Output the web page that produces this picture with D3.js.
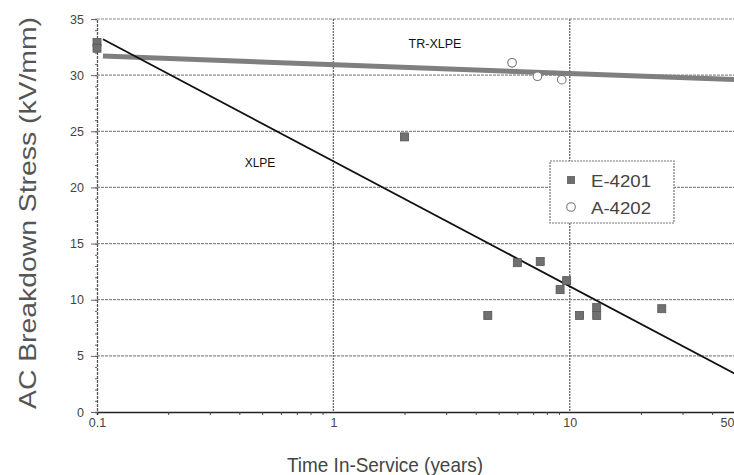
<!DOCTYPE html>
<html><head><meta charset="utf-8">
<script src="https://cdn.jsdelivr.net/npm/d3@7"></script>
<style>body{margin:0;background:#fff}svg{display:block}</style>
</head><body>
<script>
// Data
const e4201 = [[0.1,32.9],[0.1,32.4],[2,24.5],[4.5,8.6],[6,13.3],[7.5,13.4],[9.1,10.9],[9.7,11.7],[11,8.6],[13,9.3],[13,8.6],[24.5,9.2]];
const a4202 = [[5.7,31.1],[7.3,29.9],[9.25,29.6]];
const xlpeLine = [[0.106,33.2],[50,3.4]];
const trxlpeLine = [[0.106,31.7],[50,29.6]];
const xTicks = [0.1,1,10,50];
const xTickLabels = ["0.1","1","10","50"];
const yTicks = [0,5,10,15,20,25,30,35];

const W=734,H=475;
const m={l:97,t:19,r:735,b:412};
const svg=d3.select("body").append("svg").attr("width",W).attr("height",H);
const x=d3.scaleLog().domain([0.1,50]).range([m.l,m.r]);
const y=d3.scaleLinear().domain([0,35]).range([m.b,m.t]);
const font="Arial, 'Liberation Sans', sans-serif";

// horizontal grid
svg.append("g").selectAll("line").data(yTicks.filter(d=>d>0)).join("line")
 .attr("x1",m.l).attr("x2",m.r).attr("y1",d=>y(d)).attr("y2",d=>y(d))
 .attr("stroke","#8a8a8a").attr("stroke-width",1.2).attr("stroke-dasharray","3,1");
// vertical grid
svg.append("g").selectAll("line").data([1,10]).join("line")
 .attr("x1",d=>x(d)).attr("x2",d=>x(d)).attr("y1",m.t).attr("y2",m.b)
 .attr("stroke","#666").attr("stroke-width",1.3).attr("stroke-dasharray","2,1");

// axes
const minorX=[];
[0.1,1,10].forEach(dec=>{for(let k=2;k<=9;k++){const v=dec*k;if(v<=50)minorX.push(v);}});
svg.append("g").attr("transform",`translate(0,${m.b})`)
 .call(d3.axisBottom(x).tickValues(minorX).tickSize(3).tickFormat(""))
 .call(g=>g.select(".domain").attr("stroke","#222").attr("stroke-width",1.5))
 .call(g=>g.selectAll(".tick line").attr("stroke","#444"));
svg.append("g").attr("transform",`translate(0,${m.b})`)
 .call(d3.axisBottom(x).tickValues(xTicks).tickSize(0).tickPadding(6).tickFormat((d,i)=>xTickLabels[i]))
 .call(g=>g.select(".domain").remove())
 .call(g=>g.selectAll("text").attr("font-family",font).attr("font-size",12.5).attr("fill","#444"))
 .call(g=>g.selectAll(".tick").filter(d=>d===50).select("text").attr("text-anchor","end").attr("x",-1));

svg.append("g").attr("transform",`translate(${m.l},0)`)
 .call(d3.axisLeft(y).tickValues(d3.range(0,36,1)).tickSize(2).tickFormat(""))
 .call(g=>g.select(".domain").attr("stroke","#555").attr("stroke-width",1.3).attr("stroke-dasharray","3,1"))
 .call(g=>g.selectAll(".tick line").attr("stroke","#666"));
svg.append("g").attr("transform",`translate(${m.l},0)`)
 .call(d3.axisLeft(y).tickValues(yTicks).tickSize(6).tickPadding(7))
 .call(g=>g.select(".domain").remove())
 .call(g=>g.selectAll(".tick line").attr("stroke","#666"))
 .call(g=>g.selectAll("text").attr("font-family",font).attr("font-size",12.5).attr("fill","#444"));

// trend lines
const line=d3.line().x(d=>x(d[0])).y(d=>y(d[1]));
svg.append("path").datum(trxlpeLine).attr("d",line).attr("stroke","#7f7f7f").attr("stroke-width",5).attr("fill","none");
svg.append("path").datum(xlpeLine).attr("d",line).attr("stroke","#111").attr("stroke-width",1.8).attr("fill","none");

// points
svg.append("g").selectAll("rect").data(e4201).join("rect")
 .attr("x",d=>x(d[0])-4).attr("y",d=>y(d[1])-4).attr("width",8).attr("height",8)
 .attr("fill","#707070").attr("stroke","#555").attr("stroke-width",0.8);
svg.append("g").selectAll("circle").data(a4202).join("circle")
 .attr("cx",d=>x(d[0])).attr("cy",d=>y(d[1])).attr("r",4.3)
 .attr("fill","#fff").attr("stroke","#777").attr("stroke-width",1.1);

// labels
svg.append("text").attr("x",435).attr("y",48).attr("text-anchor","middle")
 .attr("font-family",font).attr("font-size",12.5).attr("fill","#111").text("TR-XLPE");
svg.append("text").attr("x",260).attr("y",167).attr("text-anchor","middle")
 .attr("font-family",font).attr("font-size",12).attr("fill","#111").text("XLPE");

// legend
const lg=svg.append("g");
lg.append("rect").attr("x",550).attr("y",161).attr("width",124).attr("height",62)
 .attr("fill","#fff").attr("stroke","#777").attr("stroke-width",1.2).attr("stroke-dasharray","2,1");
lg.append("rect").attr("x",567).attr("y",176).attr("width",8).attr("height",8).attr("fill","#6e6e6e");
lg.append("circle").attr("cx",571).attr("cy",207).attr("r",4.3).attr("fill","#fff").attr("stroke","#777").attr("stroke-width",1.1);
lg.append("text").attr("x",591).attr("y",187).attr("font-family",font).attr("font-size",17).attr("fill","#444")
 .attr("textLength",60).attr("lengthAdjust","spacingAndGlyphs").text("E-4201");
lg.append("text").attr("x",591).attr("y",214).attr("font-family",font).attr("font-size",17).attr("fill","#444")
 .attr("textLength",60).attr("lengthAdjust","spacingAndGlyphs").text("A-4202");

// axis titles
svg.append("text").attr("x",385).attr("y",472).attr("text-anchor","middle")
 .attr("font-family",font).attr("font-size",21).attr("fill","#444")
 .attr("textLength",196).attr("lengthAdjust","spacingAndGlyphs").text("Time In-Service (years)");
svg.append("text").attr("transform","translate(36,213) rotate(-90)").attr("text-anchor","middle")
 .attr("font-family",font).attr("font-size",24).attr("fill","#555")
 .attr("textLength",392).attr("lengthAdjust","spacingAndGlyphs").text("AC Breakdown Stress (kV/mm)");
</script>
</body></html>
